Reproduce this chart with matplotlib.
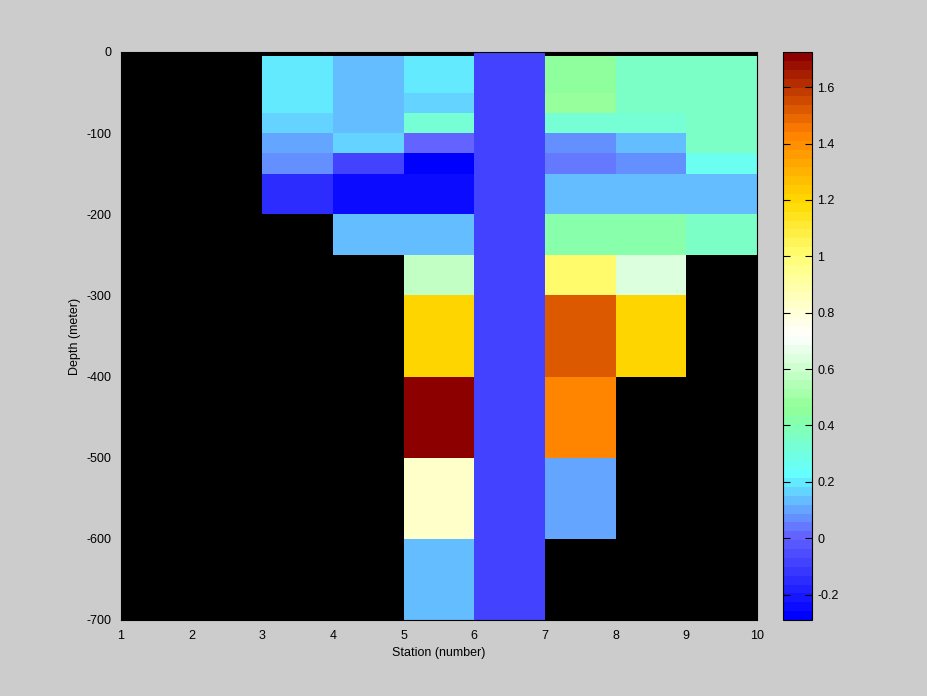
"""Station / depth section, pcolor style, with a 64-level colour bar."""

import matplotlib

matplotlib.use("Agg")
import matplotlib.pyplot as plt
import numpy as np
from matplotlib.colors import LinearSegmentedColormap, Normalize
from matplotlib.ticker import FormatStrFormatter, FuncFormatter

nan = np.nan

# grid edges
stations = [1, 2, 3, 4, 5, 6, 7, 8, 9, 10]
depth_edges = [0, -5, -50, -75, -100, -125, -150, -200, -250, -300, -400, -500, -600, -700]

# one value per cell: rows are depth layers (top to bottom), columns are stations 1..9
values = np.array([
    [nan, nan, nan, nan, nan, -0.09, nan, nan, nan],
    [nan, nan, 0.20, 0.14, 0.20, -0.09, 0.46, 0.37, 0.34],
    [nan, nan, 0.20, 0.14, 0.17, -0.09, 0.48, 0.37, 0.37],
    [nan, nan, 0.17, 0.14, 0.31, -0.09, 0.31, 0.31, 0.37],
    [nan, nan, 0.10, 0.17, 0.00, -0.09, 0.08, 0.13, 0.34],
    [nan, nan, 0.08, -0.07, -0.28, -0.09, 0.05, 0.08, 0.25],
    [nan, nan, -0.14, -0.25, -0.25, -0.09, 0.14, 0.14, 0.14],
    [nan, nan, nan, 0.14, 0.14, -0.09, 0.41, 0.41, 0.37],
    [nan, nan, nan, nan, 0.58, -0.09, 1.02, 0.65, nan],
    [nan, nan, nan, nan, 1.21, -0.09, 1.53, 1.22, nan],
    [nan, nan, nan, nan, 1.70, -0.09, 1.43, nan, nan],
    [nan, nan, nan, nan, 0.82, -0.09, 0.11, nan, nan],
    [nan, nan, nan, nan, 0.14, -0.09, nan, nan, nan],
])

vmin, vmax = -0.29, 1.725
cbar_ticks = [-0.2, 0, 0.2, 0.4, 0.6, 0.8, 1, 1.2, 1.4, 1.6]
depth_ticks = [0, -100, -200, -300, -400, -500, -600, -700]

# colour map anchors (value, rgb)
anchors = [
    (-0.29, (0, 0, 255)),
    (0.0, (100, 100, 255)),
    (0.22, (100, 255, 255)),
    (0.46, (145, 255, 150)),
    (0.72, (255, 255, 255)),
    (1.0, (255, 255, 120)),
    (1.2, (255, 218, 0)),
    (1.45, (255, 128, 0)),
    (1.725, (140, 0, 0)),
]
cmap = LinearSegmentedColormap.from_list(
    "section",
    [((v - vmin) / (vmax - vmin), tuple(c / 255 for c in rgb)) for v, rgb in anchors],
    N=64,
)

plt.rcParams["font.family"] = ["Liberation Sans", "DejaVu Sans"]
plt.rcParams["font.size"] = 9

fig = plt.figure(figsize=(9.28, 6.96), dpi=100, facecolor="#cccccc")
ax = fig.add_axes([121 / 928, 76 / 696, 636 / 928, 568 / 696])
cax = fig.add_axes([783 / 928, 76 / 696, 29 / 928, 568 / 696])

ax.set_facecolor("black")
mesh = ax.pcolormesh(stations, depth_edges, np.ma.masked_invalid(values),
                     cmap=cmap, norm=Normalize(vmin, vmax), shading="flat",
                     edgecolors="none", antialiased=False)
ax.set_xlim(1, 10)
ax.set_ylim(-700, 0)
ax.set_xticks(stations)
ax.set_yticks(depth_ticks)
ax.yaxis.set_major_formatter(FormatStrFormatter("%d"))
# ticks sit on the black background in the original, so they do not show
ax.tick_params(direction="in", length=0, colors="black", pad=7)
ax.set_xlabel("Station (number)", labelpad=4)
ax.set_ylabel("Depth (meter)", labelpad=4)
for s in ax.spines.values():
    s.set_color("black")

cbar = fig.colorbar(mesh, cax=cax)
cbar.set_ticks(cbar_ticks)
cbar.ax.yaxis.set_major_formatter(FuncFormatter(lambda v, p: f"{v:g}"))
cax.tick_params(axis="y", which="both", left=True, right=True, labelleft=False,
                labelright=True, direction="in", length=5, pad=4)
cax.minorticks_off()
cbar.outline.set_edgecolor("black")

fig.savefig("out.png", dpi=100, facecolor=fig.get_facecolor())
